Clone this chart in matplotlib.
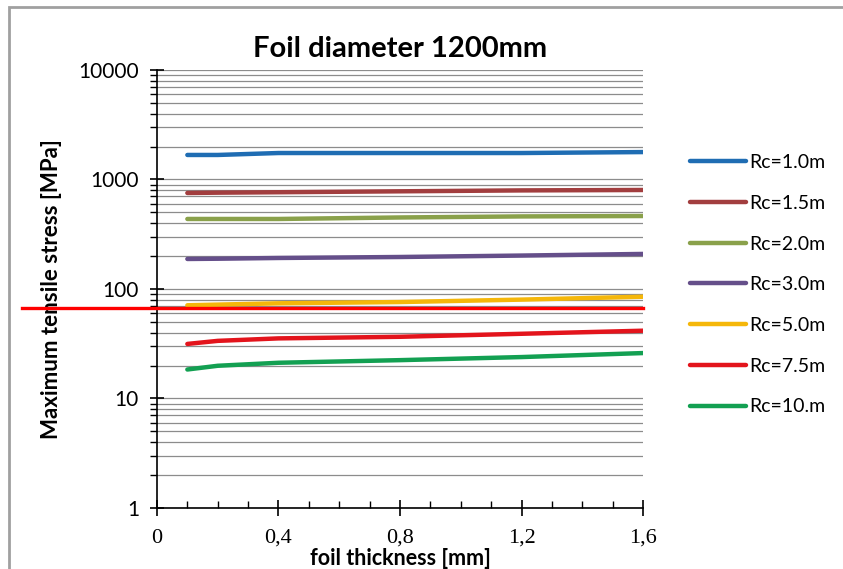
import matplotlib
matplotlib.use("Agg")
import matplotlib.pyplot as plt
from matplotlib.ticker import FixedLocator, NullFormatter, MultipleLocator, FuncFormatter
from matplotlib.patches import Rectangle

# data
thickness = [0.1, 0.2, 0.4, 0.8, 1.2, 1.6]
rc_1_0 = [1675, 1675, 1745, 1745, 1745, 1780]
rc_1_5 = [753, 758, 765, 780, 795, 802]
rc_2_0 = [436, 436, 436, 450, 460, 464]
rc_3_0 = [188, 189, 192, 196, 202, 209]
rc_5_0 = [71, 72, 74, 76, 80, 85]
rc_7_5 = [31.5, 33.6, 35.4, 36.6, 39.0, 41.6]
rc_10 = [18.4, 19.9, 21.2, 22.4, 23.9, 26.0]
labels = ["Rc=1.0m", "Rc=1.5m", "Rc=2.0m", "Rc=3.0m", "Rc=5.0m", "Rc=7.5m", "Rc=10.m"]
colors = ["#1f6db3", "#a23e3f", "#8aa14b", "#654f8a", "#f5b70a", "#e3141c", "#13a052"]
limit_stress = 67

fig = plt.figure(figsize=(8.43, 5.69), dpi=100)
ax = fig.add_axes([0.1862, 0.1072, 0.5766, 0.7698])

series = [rc_1_0, rc_1_5, rc_2_0, rc_3_0, rc_5_0, rc_7_5, rc_10]
for vals, lab, col in zip(series, labels, colors):
    ax.plot(thickness, vals, color=col, lw=3.2, label=lab, solid_capstyle="round")

# red limit line, drawn past the axis to the left
ax.axhline(limit_stress, xmin=-0.278, xmax=1.0, color="#ff0000", lw=2.4, clip_on=False, zorder=5)

ax.set_yscale("log")
ax.set_ylim(1, 10000)
ax.set_xlim(0, 1.6)

# horizontal grid at every major and minor decade step
minor_vals = [m * 10 ** d for d in range(4) for m in range(2, 10)]
ax.yaxis.set_major_locator(FixedLocator([1, 10, 100, 1000, 10000]))
ax.yaxis.set_minor_locator(FixedLocator(minor_vals))
ax.yaxis.set_minor_formatter(NullFormatter())
ax.yaxis.set_major_formatter(FuncFormatter(lambda v, p: "%d" % v))
ax.grid(True, which="both", axis="y", color="#8c8c8c", lw=0.9)
ax.set_axisbelow(True)

ax.xaxis.set_major_locator(MultipleLocator(0.4))
ax.xaxis.set_minor_locator(MultipleLocator(0.1))
ax.xaxis.set_major_formatter(FuncFormatter(lambda v, p: ("%g" % round(v, 1)).replace(".", ",")))

for s in ["top", "right"]:
    ax.spines[s].set_visible(False)
ax.spines["left"].set_linewidth(1.2)
ax.spines["bottom"].set_linewidth(1.2)

ax.tick_params(axis="y", which="major", direction="inout", length=10, width=1.2, labelsize=15, pad=8)
ax.tick_params(axis="y", which="minor", direction="out", length=5, width=1.0)
ax.tick_params(axis="x", which="major", direction="inout", length=12, width=1.2, pad=9)
ax.tick_params(axis="x", which="minor", direction="in", length=5, width=1.0)
for t in ax.get_yticklabels():
    t.set_family("Lato")
for t in ax.get_xticklabels():
    t.set_family("Liberation Serif")
    t.set_fontsize(16)

ax.set_title("Foil diameter 1200mm", family="Lato", fontsize=21, fontweight="bold", pad=9)
ax.set_xlabel("foil thickness [mm]", family="Lato", fontsize=15.5, fontweight="bold", labelpad=0)
ax.set_ylabel("Maximum tensile stress [MPa]", family="Lato", fontsize=16, fontweight="bold", labelpad=12)

leg = ax.legend(loc="upper left", bbox_to_anchor=(1.06, 0.848), frameon=False,
                prop={"family": "Lato", "size": 14}, handlelength=2.9, handletextpad=0.15,
                labelspacing=1.22)

# chart border (gray) on the left and top
fig.patches.append(Rectangle((9 / 843, -0.01), 1.0, 1 - 7 / 569 + 0.01, transform=fig.transFigure,
                             fill=False, edgecolor="#a0a0a0", lw=2))

fig.savefig("out.png", dpi=100)
